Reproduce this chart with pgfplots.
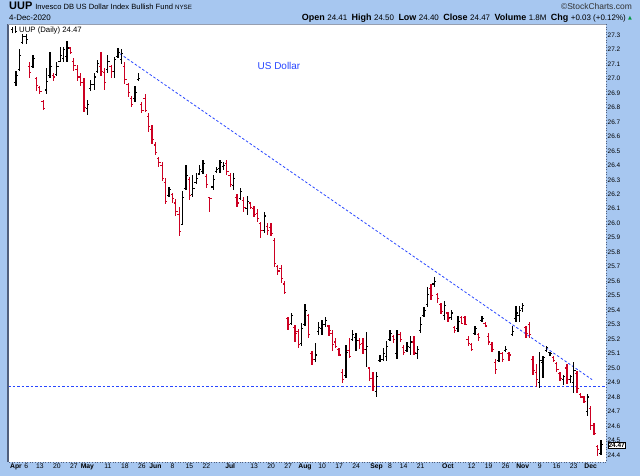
\documentclass[border=0pt]{standalone}
\usepackage{pgfplots}
\pgfplotsset{compat=1.18}
\usepackage{pgfplotstable}
\usepackage{fontspec}
\setmainfont{Liberation Sans}
\newfontfamily\dejavu{DejaVu Sans}
\definecolor{bgblue}{RGB}{167,199,240}
\definecolor{barred}{RGB}{204,0,34}
\definecolor{lineblue}{RGB}{40,70,255}
\definecolor{framec}{RGB}{80,95,125}
\definecolor{upgreen}{RGB}{0,150,60}

\pgfdeclareplotmark{cl}{\pgfpathmoveto{\pgfpointorigin}\pgfpathlineto{\pgfpoint{1.8bp}{0pt}}\pgfusepathqstroke}
\pgfdeclareplotmark{op}{\pgfpathmoveto{\pgfpointorigin}\pgfpathlineto{\pgfpoint{-1.8bp}{0pt}}\pgfusepathqstroke}

% up days (close above previous close): black
\pgfplotstableread{
i o h l c
0 26.97 27.05 26.95 27.02
1 27.06 27.20 27.05 27.16
2 27.25 27.31 27.24 27.29
3 27.29 27.31 27.24 27.27
5 27.08 27.16 27.07 27.14
9 26.92 27.07 26.89 26.98
10 27.02 27.18 27.00 27.08
12 27.03 27.11 27.02 27.08
13 27.12 27.22 27.11 27.16
14 27.14 27.22 27.11 27.20
15 27.15 27.26 27.11 27.21
21 26.79 26.85 26.75 26.82
22 26.93 26.99 26.91 26.96
23 26.96 27.04 26.92 27.01
24 27.05 27.13 27.04 27.10
27 27.06 27.16 27.04 27.12
29 27.05 27.15 27.00 27.13
30 27.15 27.21 27.14 27.18
31 27.13 27.20 27.10 27.17
35 26.86 26.95 26.84 26.90
36 26.99 27.04 26.98 27.00
45 26.19 26.25 26.18 26.23
49 25.99 26.22 25.99 26.18
50 26.24 26.40 26.23 26.33
52 26.20 26.33 26.18 26.24
53 26.28 26.35 26.27 26.31
54 26.34 26.40 26.33 26.37
55 26.36 26.44 26.34 26.41
58 26.25 26.33 26.23 26.30
59 26.36 26.39 26.35 26.37
60 26.38 26.44 26.35 26.42
61 26.39 26.42 26.37 26.40
64 26.26 26.35 26.23 26.31
66 26.17 26.24 26.16 26.22
68 26.10 26.19 26.06 26.15
73 25.95 26.08 25.93 26.05
81 25.31 25.38 25.30 25.36
84 25.17 25.31 25.15 25.27
85 25.30 25.44 25.29 25.40
88 25.06 25.17 25.04 25.09
89 25.25 25.32 25.23 25.28
90 25.27 25.33 25.23 25.30
91 25.30 25.35 25.28 25.33
97 24.95 25.16 24.93 25.11
99 25.20 25.26 25.19 25.23
100 25.21 25.24 25.12 25.19
103 25.13 25.25 25.01 25.15
106 24.84 24.97 24.80 24.94
107 25.05 25.09 25.04 25.06
108 25.06 25.14 25.05 25.10
109 25.08 25.19 25.05 25.15
110 25.20 25.26 25.19 25.24
112 25.10 25.26 25.06 25.23
115 25.12 25.18 25.11 25.15
116 25.14 25.22 25.09 25.18
118 25.10 25.15 25.06 25.13
119 25.26 25.35 25.24 25.30
120 25.36 25.42 25.35 25.40
121 25.44 25.56 25.42 25.51
123 25.58 25.63 25.56 25.60
126 25.36 25.46 25.33 25.43
128 25.35 25.40 25.33 25.38
130 25.27 25.36 25.25 25.32
135 25.24 25.29 25.23 25.27
137 25.33 25.36 25.32 25.34
142 25.05 25.12 25.04 25.10
144 25.12 25.15 25.11 25.13
146 25.23 25.29 25.22 25.25
147 25.34 25.43 25.32 25.38
148 25.36 25.43 25.32 25.40
149 25.41 25.45 25.39 25.43
154 24.90 25.11 24.86 25.05
155 25.04 25.08 24.93 25.07
156 25.12 25.15 25.11 25.14
157 25.11 25.11 25.08 25.10
161 24.92 24.95 24.88 24.94
163 24.92 24.95 24.90 24.94
164 24.90 25.04 24.83 24.98
168 24.70 24.82 24.67 24.80
172 24.41 24.50 24.40 24.47
}\updays

% down days (close below previous close): red
\pgfplotstableread{
i o h l c
4 27.08 27.11 27.00 27.04
6 27.00 27.01 26.91 26.95
7 26.94 26.95 26.89 26.91
8 26.84 26.85 26.78 26.79
11 27.02 27.04 26.98 27.01
16 27.21 27.22 27.17 27.18
17 27.12 27.14 27.05 27.09
18 27.06 27.09 26.98 27.01
19 27.01 27.04 26.95 26.97
20 26.97 27.00 26.77 26.80
25 27.08 27.18 27.02 27.05
26 27.04 27.07 26.92 26.97
28 27.08 27.09 27.00 27.05
32 27.08 27.11 26.96 26.99
33 26.96 26.97 26.87 26.90
34 26.86 26.88 26.80 26.82
37 26.82 26.84 26.76 26.78
38 26.86 26.89 26.77 26.78
39 26.74 26.76 26.63 26.67
40 26.65 26.68 26.55 26.58
41 26.54 26.56 26.47 26.49
42 26.45 26.46 26.39 26.42
43 26.40 26.42 26.29 26.31
44 26.28 26.31 26.13 26.15
46 26.20 26.21 26.14 26.17
47 26.14 26.17 26.05 26.08
48 26.06 26.11 25.91 25.94
51 26.30 26.32 26.16 26.19
56 26.32 26.34 26.24 26.27
57 26.18 26.18 26.08 26.17
62 26.41 26.44 26.33 26.36
63 26.33 26.35 26.25 26.27
65 26.18 26.20 26.11 26.14
67 26.16 26.18 26.08 26.11
69 26.14 26.15 26.10 26.11
70 26.10 26.12 26.04 26.06
71 26.07 26.10 26.01 26.03
72 26.00 26.01 25.90 25.95
74 25.98 26.00 25.92 25.95
75 25.97 26.00 25.91 25.93
76 25.88 25.90 25.70 25.72
77 25.70 25.71 25.64 25.67
78 25.69 25.71 25.59 25.62
79 25.58 25.60 25.51 25.52
80 25.34 25.35 25.26 25.30
82 25.28 25.30 25.18 25.24
83 25.25 25.27 25.14 25.16
86 25.36 25.37 25.21 25.23
87 25.10 25.12 25.02 25.06
92 25.29 25.30 25.22 25.26
93 25.24 25.26 25.12 25.16
94 25.18 25.21 25.14 25.15
95 25.13 25.14 25.08 25.09
96 24.97 24.99 24.90 24.92
98 25.12 25.21 25.07 25.08
101 25.19 25.21 25.13 25.16
102 25.17 25.21 25.10 25.13
104 25.00 25.01 24.91 24.93
105 24.93 24.97 24.84 24.87
111 25.22 25.23 25.17 25.20
113 25.23 25.25 25.18 25.20
114 25.14 25.16 25.09 25.11
117 25.18 25.22 25.09 25.11
122 25.55 25.58 25.47 25.50
124 25.51 25.52 25.45 25.48
125 25.44 25.45 25.37 25.39
127 25.38 25.39 25.32 25.34
129 25.28 25.29 25.24 25.26
131 25.35 25.36 25.31 25.31
132 25.35 25.36 25.30 25.30
133 25.20 25.22 25.15 25.17
134 25.16 25.17 25.12 25.13
136 25.23 25.24 25.19 25.21
138 25.31 25.32 25.28 25.29
139 25.22 25.24 25.16 25.18
140 25.16 25.18 25.11 25.13
141 25.04 25.06 24.96 24.99
143 25.10 25.11 25.04 25.06
145 25.10 25.11 25.05 25.09
150 25.28 25.29 25.21 25.24
151 25.30 25.32 25.21 25.23
152 25.06 25.08 24.95 24.98
153 24.97 25.03 24.87 24.92
158 25.07 25.08 25.04 25.05
159 25.03 25.04 24.97 24.99
160 24.96 24.97 24.91 24.93
162 25.00 25.03 24.89 24.92
165 24.96 24.98 24.83 24.86
166 24.82 24.83 24.79 24.80
167 24.80 24.81 24.76 24.77
169 24.72 24.74 24.57 24.60
170 24.60 24.62 24.54 24.55
171 24.46 24.47 24.39 24.44
}\downdays

\begin{document}
\begin{tikzpicture}[x=1bp,y=1bp]
\fill[bgblue] (0,0) rectangle (640,476);
\begin{axis}[
  at={(8bp,14bp)}, anchor=south west,
  scale only axis, width=598bp, height=438bp,
  xmin=-2.35, xmax=173.5, ymin=24.351, ymax=27.376,
  axis line style={draw=none},
  axis background/.style={fill=white},
  clip=false,
  major tick length=0pt,
  xtick={0,3,7,12,17,21,27,32,37,41,46,51,56,63,70,75,80,85,90,95,100,106,110,114,119,127,134,139,144,149,154,159,164,169},
  xticklabels={\textbf{Apr},6,13,20,27,\textbf{May},11,18,26,\textbf{Jun},8,15,22,\textbf{Jul},13,20,27,\textbf{Aug},10,17,24,\textbf{Sep},8,14,21,\textbf{Oct},12,19,26,\textbf{Nov},9,16,23,\textbf{Dec}},
  x tick label style={font=\fontsize{6.8}{7}\selectfont, inner sep=1.5bp},
  ytick={24.4,24.5,24.6,24.7,24.8,24.9,25.0,25.1,25.2,25.3,25.4,25.5,25.6,25.7,25.8,25.9,26.0,26.1,26.2,26.3,26.4,26.5,26.6,26.7,26.8,26.9,27.0,27.1,27.2,27.3},
  yticklabels={24.4,24.5,24.6,24.7,24.8,24.9,25.0,25.1,25.2,25.3,25.4,25.5,25.6,25.7,25.8,25.9,26.0,26.1,26.2,26.3,26.4,26.5,26.6,26.7,26.8,26.9,27.0,27.1,27.2,27.3},
  yticklabel pos=right,
  y tick label style={font=\fontsize{6.5}{7}\selectfont, anchor=west, inner sep=1.5bp},
]
% reference lines
\addplot[lineblue, line width=0.8bp, dash pattern=on 2.5bp off 2bp] coordinates {(-2.35,24.87) (173.5,24.87)};
\addplot[lineblue, line width=0.8bp, dash pattern=on 2.5bp off 2bp] coordinates {(30.6,27.17) (169.4,24.92)};
% up bars (black): high-low line with close tick
\addplot[only marks, mark=cl, mark options={draw=black, line width=1.1bp},
  error bars/.cd, y dir=both, y explicit, error mark=none,
  error bar style={draw=black, line width=1.3bp}]
  table[x=i, y=c, y error plus expr=\thisrow{h}-\thisrow{c}, y error minus expr=\thisrow{c}-\thisrow{l}] {\updays};
\addplot[only marks, mark=op, mark options={draw=black, line width=1.1bp}] table[x=i, y=o] {\updays};
% down bars (red)
\addplot[only marks, mark=cl, mark options={draw=barred, line width=1.1bp},
  error bars/.cd, y dir=both, y explicit, error mark=none,
  error bar style={draw=barred, line width=1.3bp}]
  table[x=i, y=c, y error plus expr=\thisrow{h}-\thisrow{c}, y error minus expr=\thisrow{c}-\thisrow{l}] {\downdays};
\addplot[only marks, mark=op, mark options={draw=barred, line width=1.1bp}] table[x=i, y=o] {\downdays};
% frame
\draw[framec, line width=1.2bp] (rel axis cs:0,0) -- (rel axis cs:0,1);
\draw[framec!60, line width=0.5bp] (rel axis cs:0,1) -- (rel axis cs:1,1);
\draw[framec, line width=0.6bp, dotted] (rel axis cs:1,1) -- (rel axis cs:1,0) -- (rel axis cs:0,0);
\coordinate (lp) at (axis cs:173.5,24.47);
\end{axis}
% last price box
\node[anchor=west, draw=black, fill=white, line width=0.5bp, inner sep=0.8bp, font=\fontsize{6.5}{7}\selectfont\bfseries, xshift=1.5bp, yshift=-0.5bp] at (lp) {24.47};
% texts in plot
\node[anchor=base west, font=\fontsize{7.8}{8}\selectfont, inner sep=0] at (19,443) {UUP (Daily) 24.47};
\draw[black, line width=0.6bp] (12,442.5) -- (12,449) (11,447) -- (12,447) (12,444) -- (13,444);
\draw[black, line width=0.6bp] (15.5,443) -- (15.5,449.5) (14.5,448) -- (15.5,448) (15.5,444.5) -- (16.5,444.5);
\node[font=\fontsize{10}{10}\selectfont, text=lineblue] at (279,410) {US Dollar};
% header
\node[anchor=base west, inner sep=0] at (9,466) {\fontsize{11}{12}\selectfont\bfseries UUP\ \mdseries\fontsize{7.6}{8}\selectfont Invesco DB US Dollar Index Bullish Fund\ \fontsize{6.2}{7}\selectfont NYSE};
\node[anchor=base west, inner sep=0, font=\fontsize{8}{8}\selectfont] at (9,455) {4-Dec-2020};
\node[anchor=base east, inner sep=0, font=\fontsize{8.5}{9}\selectfont, text=black!80] at (632,466) {\textcopyright StockCharts.com};
\node[anchor=base east, inner sep=0] at (626,455) {\fontsize{9}{9}\selectfont\bfseries Open \mdseries\fontsize{8}{8}\selectfont 24.41 \ \fontsize{9}{9}\selectfont\bfseries High \mdseries\fontsize{8}{8}\selectfont 24.50 \ \fontsize{9}{9}\selectfont\bfseries Low \mdseries\fontsize{8}{8}\selectfont 24.40 \ \fontsize{9}{9}\selectfont\bfseries Close \mdseries\fontsize{8}{8}\selectfont 24.47 \ \fontsize{9}{9}\selectfont\bfseries Volume \mdseries\fontsize{8}{8}\selectfont 1.8M \ \fontsize{9}{9}\selectfont\bfseries Chg \mdseries\fontsize{8}{8}\selectfont +0.03 (+0.12\%)};
\node[anchor=base west, inner sep=0, text=upgreen, font=\dejavu\fontsize{5}{5}\selectfont] at (628,456) {▲};
\end{tikzpicture}
\end{document}
